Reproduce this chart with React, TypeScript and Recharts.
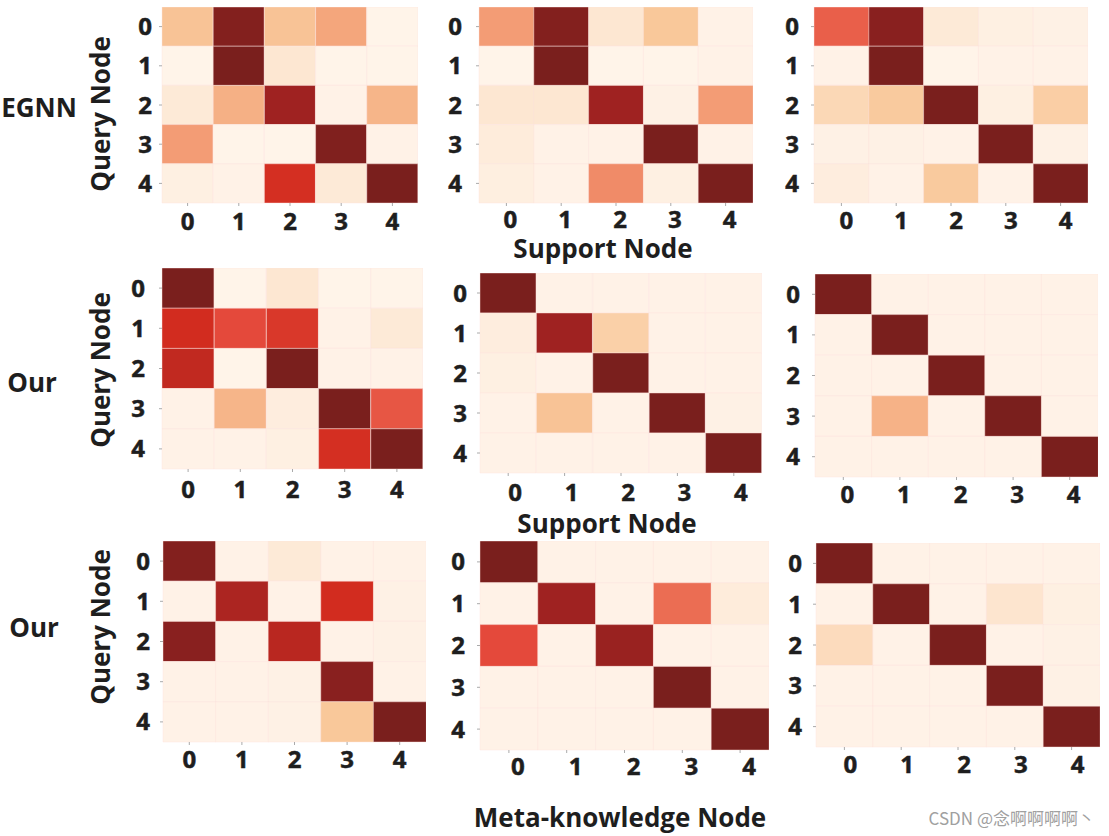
import { BarChart, Bar, XAxis, YAxis, Cell } from 'recharts';

// node indices on both axes
const NODES = [0, 1, 2, 3, 4];
const ROW_KEYS = ['r0', 'r1', 'r2', 'r3', 'r4'];
const Y_TICKS = [0.5, 1.5, 2.5, 3.5, 4.5];

// attention weights, rows = query node, cols = support / meta-knowledge node
const egnnA = [
  [0.3, 0.97, 0.3, 0.42, 0.02],
  [0.02, 1.0, 0.12, 0.02, 0.02],
  [0.1, 0.38, 0.88, 0.03, 0.36],
  [0.45, 0.02, 0.02, 0.98, 0.03],
  [0.05, 0.03, 0.75, 0.1, 1.0],
];
const egnnB = [
  [0.45, 0.97, 0.12, 0.28, 0.03],
  [0.02, 1.0, 0.02, 0.02, 0.03],
  [0.12, 0.12, 0.88, 0.04, 0.45],
  [0.08, 0.03, 0.03, 1.0, 0.03],
  [0.06, 0.03, 0.5, 0.05, 1.0],
];
const egnnC = [
  [0.61, 0.95, 0.1, 0.05, 0.04],
  [0.03, 1.0, 0.02, 0.03, 0.03],
  [0.2, 0.27, 1.0, 0.05, 0.25],
  [0.04, 0.04, 0.03, 1.0, 0.04],
  [0.07, 0.03, 0.27, 0.03, 1.0],
];
const ourSupA = [
  [1.0, 0.02, 0.12, 0.02, 0.02],
  [0.76, 0.66, 0.72, 0.03, 0.1],
  [0.8, 0.02, 1.0, 0.03, 0.03],
  [0.03, 0.36, 0.07, 1.0, 0.63],
  [0.03, 0.03, 0.05, 0.75, 1.0],
];
const ourSupB = [
  [1.0, 0.03, 0.03, 0.03, 0.03],
  [0.07, 0.88, 0.24, 0.03, 0.03],
  [0.05, 0.03, 1.0, 0.03, 0.03],
  [0.03, 0.3, 0.03, 1.0, 0.04],
  [0.03, 0.03, 0.03, 0.03, 1.0],
];
const ourSupC = [
  [1.0, 0.03, 0.03, 0.03, 0.03],
  [0.03, 1.0, 0.03, 0.03, 0.03],
  [0.03, 0.03, 1.0, 0.03, 0.03],
  [0.03, 0.37, 0.03, 1.0, 0.03],
  [0.03, 0.03, 0.03, 0.03, 1.0],
];
const ourMetaA = [
  [0.97, 0.03, 0.1, 0.03, 0.03],
  [0.03, 0.85, 0.03, 0.76, 0.04],
  [0.95, 0.03, 0.82, 0.03, 0.04],
  [0.03, 0.03, 0.04, 0.95, 0.03],
  [0.03, 0.03, 0.04, 0.28, 1.0],
];
const ourMetaB = [
  [1.0, 0.03, 0.03, 0.03, 0.03],
  [0.03, 0.88, 0.03, 0.58, 0.08],
  [0.66, 0.03, 0.9, 0.03, 0.03],
  [0.03, 0.03, 0.03, 1.0, 0.03],
  [0.03, 0.03, 0.03, 0.03, 1.0],
];
const ourMetaC = [
  [1.0, 0.03, 0.03, 0.03, 0.03],
  [0.03, 1.0, 0.03, 0.13, 0.05],
  [0.18, 0.03, 1.0, 0.03, 0.04],
  [0.03, 0.03, 0.03, 1.0, 0.04],
  [0.03, 0.03, 0.03, 0.03, 1.0],
];

// OrRd-like ramp
const STOPS: [number, number[]][] = [
  [0, [255, 246, 238]],
  [0.12, [253, 231, 210]],
  [0.28, [249, 200, 154]],
  [0.42, [244, 166, 124]],
  [0.55, [238, 122, 92]],
  [0.66, [228, 73, 59]],
  [0.76, [210, 44, 31]],
  [0.88, [159, 34, 33]],
  [1, [122, 31, 29]],
];

function colorOf(v: number) {
  for (let i = 1; i < STOPS.length; i++) {
    const [t1, c1] = STOPS[i];
    const [t0, c0] = STOPS[i - 1];
    if (v <= t1) {
      const f = (v - t0) / (t1 - t0);
      const c = c0.map((a, k) => Math.round(a + (c1[k] - a) * f));
      return `rgb(${c[0]},${c[1]},${c[2]})`;
    }
  }
  const c = STOPS[STOPS.length - 1][1];
  return `rgb(${c[0]},${c[1]},${c[2]})`;
}

const FONT = '"Open Sans", "DejaVu Sans", sans-serif';
const INK = '#1e1e1e';

interface Box {
  x0: number;
  y0: number;
  x1: number;
  y1: number;
}

interface PanelProps {
  m: number[][];
  box: Box;
  yGap: number;
  xGap: number;
  xShift: number;
}

function Heatmap({ m, box, yGap, xGap, xShift }: PanelProps) {
  const yw = 60;
  const xh = 44;
  const w = box.x1 - box.x0;
  const h = box.y1 - box.y0;
  const data = NODES.map((c) => ({ col: c, r0: 1, r1: 1, r2: 1, r3: 1, r4: 1 }));

  const xTick = (p: any) => (
    <text
      x={p.x + xShift}
      y={p.y}
      dy="0.71em"
      textAnchor="middle"
      fontSize={24}
      fontWeight={700}
      fontFamily={FONT}
      fill={INK}
      stroke={INK}
      strokeWidth={0.5}
    >
      {p.payload.value}
    </text>
  );

  return (
    <div style={{ position: 'absolute', left: box.x0 - yw, top: box.y0 }}>
      <BarChart
        width={w + yw}
        height={h + xh}
        data={data}
        margin={{ top: 0, right: 0, bottom: 0, left: 0 }}
        barCategoryGap={0}
        barGap={0}
      >
        <XAxis
          dataKey="col"
          height={xh}
          axisLine={false}
          tickSize={3}
          tickMargin={xGap - 3}
          tickLine={{ stroke: '#aaa' }}
          tick={xTick}
          interval={0}
        />
        <YAxis
          type="number"
          domain={[0, 5]}
          reversed
          ticks={Y_TICKS}
          interval={0}
          tickFormatter={(v: number) => String(v - 0.5)}
          width={yw}
          axisLine={false}
          tickSize={3}
          tickMargin={yGap - 3}
          tickLine={{ stroke: '#aaa' }}
          tick={{ fontSize: 24, fontWeight: 700, fontFamily: FONT, fill: INK, stroke: INK, strokeWidth: 0.5 }}
        />
        {ROW_KEYS.map((k, r) => (
          <Bar
            key={k}
            dataKey={k}
            stackId="cells"
            isAnimationActive={false}
            stroke="rgba(252,228,220,0.55)"
            strokeWidth={0.8}
          >
            {NODES.map((c) => (
              <Cell key={c} fill={colorOf(m[r][c])} />
            ))}
          </Bar>
        ))}
      </BarChart>
    </div>
  );
}

const titleStyle = {
  fontFamily: FONT,
  fontWeight: 700,
  fill: INK,
};

export default function App() {
  return (
    <div style={{ position: 'absolute', left: 0, top: 0, width: 1109, height: 836, background: '#fff' }}>
      <Heatmap m={egnnA} box={{ x0: 162, y0: 7, x1: 418, y1: 203 }} yGap={10} xGap={10} xShift={0} />
      <Heatmap m={egnnB} box={{ x0: 479, y0: 7, x1: 753, y1: 203 }} yGap={17} xGap={8} xShift={4} />
      <Heatmap m={egnnC} box={{ x0: 814, y0: 7, x1: 1088, y1: 203 }} yGap={15} xGap={9} xShift={5} />

      <Heatmap m={ourSupA} box={{ x0: 162, y0: 268, x1: 423, y1: 469 }} yGap={17} xGap={12} xShift={0} />
      <Heatmap m={ourSupB} box={{ x0: 480, y0: 273, x1: 762, y1: 473 }} yGap={13} xGap={11} xShift={7} />
      <Heatmap m={ourSupC} box={{ x0: 815, y0: 274, x1: 1098, y1: 477 }} yGap={15} xGap={9} xShift={4} />

      <Heatmap m={ourMetaA} box={{ x0: 163, y0: 541, x1: 426, y1: 742 }} yGap={13} xGap={9} xShift={0} />
      <Heatmap m={ourMetaB} box={{ x0: 480, y0: 541, x1: 769, y1: 750 }} yGap={15} xGap={8} xShift={9} />
      <Heatmap m={ourMetaC} box={{ x0: 816, y0: 543, x1: 1100, y1: 747 }} yGap={14} xGap={9} xShift={6} />

      <svg
        width={1109}
        height={836}
        style={{ position: 'absolute', left: 0, top: 0, pointerEvents: 'none' }}
      >
        <text x={39} y={107} textAnchor="middle" dominantBaseline="central" fontSize={26} {...titleStyle}>
          EGNN
        </text>
        <text x={32} y={382} textAnchor="middle" dominantBaseline="central" fontSize={26} {...titleStyle}>
          Our
        </text>
        <text x={34} y={627} textAnchor="middle" dominantBaseline="central" fontSize={26} {...titleStyle}>
          Our
        </text>

        {[114, 370, 627].map((cy) => (
          <text
            key={cy}
            x={100}
            y={cy}
            transform={`rotate(-90 100 ${cy})`}
            textAnchor="middle"
            dominantBaseline="central"
            fontSize={26}
            {...titleStyle}
          >
            Query Node
          </text>
        ))}

        <text x={603} y={248} textAnchor="middle" dominantBaseline="central" fontSize={26} {...titleStyle}>
          Support Node
        </text>
        <text x={607} y={523} textAnchor="middle" dominantBaseline="central" fontSize={26} {...titleStyle}>
          Support Node
        </text>
        <text x={620} y={817} textAnchor="middle" dominantBaseline="central" fontSize={26} {...titleStyle}>
          Meta-knowledge Node
        </text>

        <text
          x={1095}
          y={817}
          textAnchor="end"
          dominantBaseline="central"
          fontSize={17}
          fontFamily='"Noto Sans CJK SC", "Noto Sans", sans-serif'
          fill="#a0a0a0"
        >
          CSDN @念啊啊啊啊丶
        </text>
      </svg>
    </div>
  );
}
